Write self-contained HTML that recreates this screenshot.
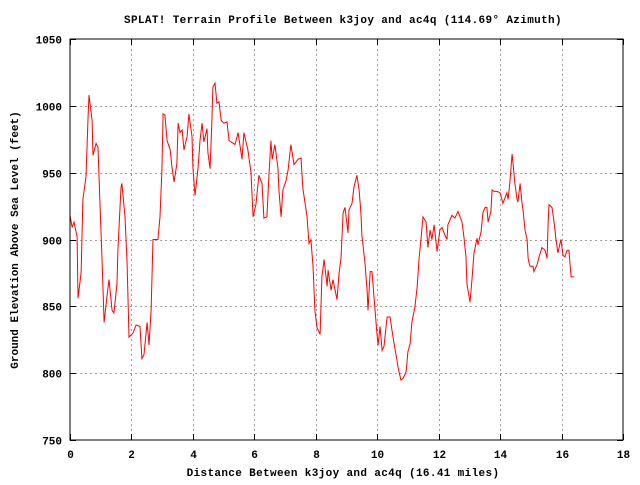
<!DOCTYPE html>
<html><head><meta charset="utf-8"><style>
body{margin:0;background:#fff}
svg text{font-family:"Liberation Mono",monospace;font-size:11px;font-weight:bold;fill:#000}
</style></head><body>
<svg id="chart" width="640" height="480" xmlns="http://www.w3.org/2000/svg">
<rect width="640" height="480" fill="#fff"/>
<text x="343" y="23" text-anchor="middle" letter-spacing="0.35">SPLAT! Terrain Profile Between k3joy and ac4q (114.69° Azimuth)</text>
<text x="343" y="476" text-anchor="middle" letter-spacing="0.35">Distance Between k3joy and ac4q (16.41 miles)</text>
<text x="18" y="240" text-anchor="middle" transform="rotate(-90 18 240)">Ground Elevation Above Sea Level (feet)</text>
<g id="grid"></g><g id="ticks"></g><g id="plot"></g>
<rect x="70" y="39" width="553" height="401" fill="none" stroke="#000" stroke-width="1"/>
</svg>
<script>
const xTicks=[0,2,4,6,8,10,12,14,16,18];
const yTicks=[750,800,850,900,950,1000,1050];
const dist=[0,0,.07,.13,.23,.26,.36,.42,.52,.59,.62,.72,.75,.85,.91,.98,1.04,1.11,1.20,1.27,1.37,1.43,1.53,1.56,1.66,1.69,1.79,1.86,1.92,2.05,2.15,2.28,2.34,2.41,2.51,2.57,2.64,2.70,2.86,2.93,2.99,3.03,3.09,3.16,3.26,3.32,3.39,3.48,3.52,3.58,3.65,3.71,3.81,3.87,3.97,4.00,4.07,4.17,4.23,4.30,4.36,4.46,4.49,4.56,4.62,4.65,4.72,4.78,4.85,4.92,5.01,5.11,5.18,5.37,5.47,5.60,5.66,5.79,5.89,5.96,6.05,6.15,6.25,6.31,6.41,6.48,6.54,6.58,6.67,6.77,6.80,6.87,6.93,7.03,7.10,7.19,7.29,7.42,7.52,7.58,7.71,7.78,7.84,7.91,7.97,8.04,8.14,8.20,8.27,8.37,8.40,8.50,8.56,8.69,8.76,8.82,8.89,8.95,9.05,9.08,9.18,9.24,9.34,9.41,9.47,9.50,9.60,9.67,9.70,9.77,9.83,9.90,9.99,10.03,10.09,10.16,10.22,10.32,10.42,10.48,10.55,10.64,10.68,10.77,10.84,10.94,11.00,11.07,11.13,11.23,11.30,11.36,11.43,11.49,11.59,11.65,11.72,11.78,11.85,11.95,12.04,12.11,12.21,12.27,12.30,12.43,12.53,12.63,12.76,12.82,12.89,12.92,13.02,13.09,13.15,13.25,13.28,13.38,13.44,13.51,13.57,13.61,13.70,13.74,13.80,13.90,14.00,14.09,14.22,14.26,14.32,14.39,14.42,14.48,14.55,14.58,14.65,14.71,14.75,14.81,14.88,14.91,14.97,15.07,15.10,15.20,15.27,15.36,15.46,15.53,15.56,15.59,15.69,15.75,15.82,15.88,15.98,16.05,16.11,16.18,16.24,16.31,16.41];
const elev=[940,918,909,913,902,856,875,930,947,992,1008,989,963,972,969,924,886,838,857,870,847,845,867,892,939,942,917,882,827,830,836,835,811,814,838,821,847,900,900,917,952,994,993,974,967,954,943,957,987,980,982,967,977,994,977,954,933,954,974,987,973,983,965,953,989,1014,1017,1002,1003,989,987,988,974,971,980,960,980,967,950,917,926,948,942,916,917,950,974,960,971,953,937,917,937,944,952,971,956,960,961,938,918,897,900,880,847,834,829,872,885,865,877,862,870,855,875,886,920,924,905,922,927,939,948,937,920,903,883,862,847,876,876,855,830,821,835,817,820,842,842,832,822,810,804,795,796,801,816,822,838,850,865,885,902,917,913,894,907,900,911,891,907,909,903,900,911,918,916,921,913,902,887,867,853,872,890,901,896,906,920,924,924,913,921,937,936,936,935,927,935,930,943,964,957,942,930,928,942,928,921,907,900,886,880,880,876,881,887,894,892,886,910,926,924,914,900,890,900,888,887,892,892,872,872];
const X0=70,X1=623,Y0=440,Y1=39;
function sx(v){return X0+(v-0)/(18-0)*(X1-X0);}
function sy(v){return Y0-(v-750)/(1050-750)*(Y0-Y1);}
const NS="http://www.w3.org/2000/svg";
const grid=document.getElementById('grid'),ticks=document.getElementById('ticks'),plot=document.getElementById('plot');
function mk(tag,attrs,parent){const e=document.createElementNS(NS,tag);for(const k in attrs)e.setAttribute(k,attrs[k]);parent.appendChild(e);return e;}
xTicks.forEach(t=>{const x=Math.round(sx(t))+0.5;
 if(t>0&&t<18){const g=mk('line',{x1:x,y1:Y1,x2:x,y2:Y0,stroke:'#a0a0a0','stroke-dasharray':'2,3'},grid);
 
 }
 const a=mk('line',{x1:x,y1:Y0,x2:x,y2:Y0-6,stroke:'#000'},ticks);
 
 
 const b=mk('line',{x1:x,y1:Y1,x2:x,y2:Y1+6,stroke:'#000'},ticks);
 
 
 const l=mk('text',{x:x,y:458,'text-anchor':'middle'},ticks);l.textContent=t;
 
 
});
yTicks.forEach(t=>{const y=Math.round(sy(t))+0.5;
 if(t>750&&t<1050){const g=mk('line',{x1:X0,y1:y,x2:X1,y2:y,stroke:'#a0a0a0','stroke-dasharray':'2,3'},grid);
 
 }
 const a=mk('line',{x1:X0,y1:y,x2:X0+6,y2:y,stroke:'#000'},ticks);
 
 
 const b=mk('line',{x1:X1,y1:y,x2:X1-6,y2:y,stroke:'#000'},ticks);
 
 
 const l=mk('text',{x:62,y:y+4,'text-anchor':'end'},ticks);l.textContent=t;
 
 
});
const pts=dist.map((d,i)=>sx(d).toFixed(1)+','+sy(elev[i]).toFixed(1)).join(' ');
const pl=mk('polyline',{points:pts,fill:'none',stroke:'#ff0000','stroke-width':1},plot);


</script>
</body></html>
